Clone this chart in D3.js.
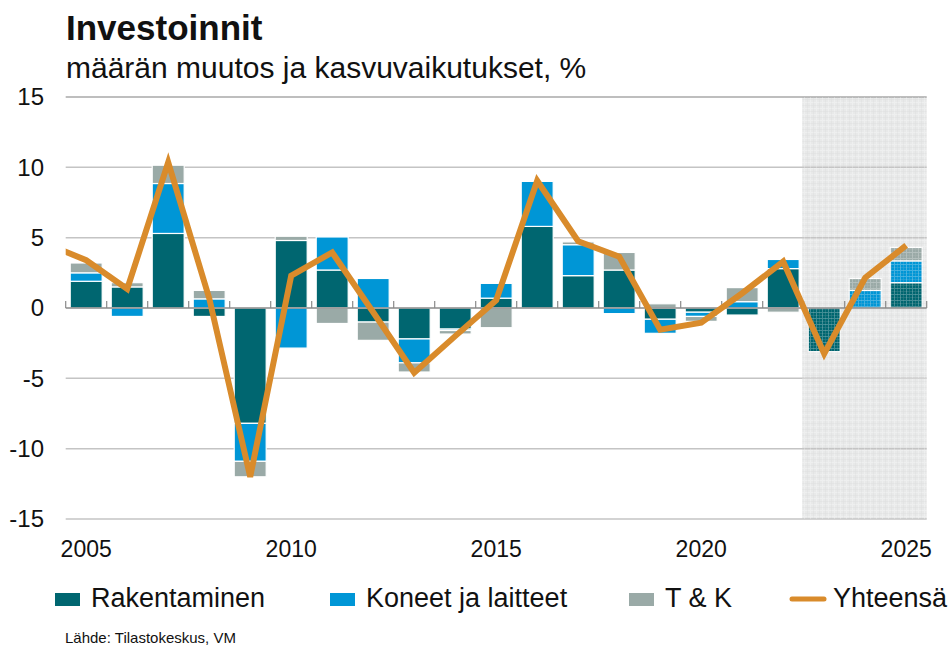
<!DOCTYPE html>
<html>
<head>
<meta charset="utf-8">
<script src="https://cdn.jsdelivr.net/npm/d3@7"></script>
<style>
  body { margin: 0; background: #fff; }
  svg text { font-family: "Liberation Sans", Arial, sans-serif; fill: #111; }
</style>
</head>
<body>
<div id="chart"></div>
<script>
// vuodet ja kasvuvaikutukset, %-yks.
var years = [2005, 2006, 2007, 2008, 2009, 2010, 2011, 2012, 2013, 2014, 2015,
  2016, 2017, 2018, 2019, 2020, 2021, 2022, 2023, 2024, 2025];
var rakentaminen = [1.9, 1.5, 5.3, -0.6, -8.2, 4.8, 2.7, -1.0, -2.2, -1.5, 0.7,
  5.8, 2.3, 2.7, -0.8, -0.3, -0.5, 2.8, -3.1, 0, 1.8];
var koneet = [0.6, -0.6, 3.55, 0.65, -2.7, -2.85, 2.35, 2.1, -1.7, -0.1, 1.05,
  3.2, 2.2, -0.4, -1.0, -0.3, 0.45, 0.65, 0, 1.25, 1.55];
var tk = [0.7, 0.3, 1.3, 0.6, -1.1, 0.3, -1.1, -1.3, -0.65, -0.25, -1.4,
  0, 0.2, 1.25, 0.3, -0.35, 1.0, -0.3, 0, 0.85, 0.95];

// yhteensä-viiva alkaa jo vuodesta 2004 (leikataan kuvan reunaan)
var lineYears = [2004, 2005, 2006, 2007, 2008, 2009, 2010, 2011, 2012, 2013, 2014,
  2015, 2016, 2017, 2018, 2019, 2020, 2021, 2022, 2023, 2024, 2025];
var yhteensa = [4.6, 3.4, 1.35, 10.35, 0.7, -12.0, 2.3, 3.95, -0.3, -4.6, -2.0,
  0.55, 9.05, 4.75, 3.65, -1.55, -1.05, 1.05, 3.3, -3.25, 2.15, 4.45];

var yTicks = [15, 10, 5, 0, -5, -10, -15];
var xLabels = [2005, 2010, 2015, 2020, 2025];
var forecastStart = 2023;

var keys = ["rak", "kon", "tk"];
var names = ["Rakentaminen", "Koneet ja laitteet", "T & K", "Yhteensä"];
var colors = { rak: "#006670", kon: "#0096d6", tk: "#9aaaa7" };
var lineColor = "#d98b2b";

var width = 948, height = 647;
var plotLeft = 65.7, plotRight = 926.7, plotTop = 97, plotBottom = 519;

var svg = d3.select("#chart").append("svg")
  .attr("width", width)
  .attr("height", height);

var x = d3.scaleBand()
  .domain(years)
  .range([plotLeft, plotRight])
  .paddingInner(0.22)
  .paddingOuter(0.11);

var xl = d3.scaleLinear()
  .domain([years[0] - 0.5, years[years.length - 1] + 0.5])
  .range([plotLeft, plotRight]);

var y = d3.scaleLinear().domain([-15, 15]).range([plotBottom, plotTop]);

var rows = years.map(function(yr, i) {
  return { year: yr, rak: rakentaminen[i], kon: koneet[i], tk: tk[i] };
});

var series = d3.stack()
  .keys(keys)
  .offset(d3.stackOffsetDiverging)(rows);

// ennustealue
var defs = svg.append("defs");
var pat = defs.append("pattern")
  .attr("id", "grid")
  .attr("patternUnits", "userSpaceOnUse")
  .attr("width", 6)
  .attr("height", 6);
pat.append("path")
  .attr("d", "M0,0.5H6M0.5,0V6")
  .attr("stroke", "#ffffff")
  .attr("stroke-width", 1)
  .attr("opacity", 0.25);
pat.append("path")
  .attr("d", "M0,3.5H6M3.5,0V6")
  .attr("stroke", "#c8c8c8")
  .attr("stroke-width", 0.6)
  .attr("opacity", 0.25);

defs.append("clipPath")
  .attr("id", "plotclip")
  .append("rect")
  .attr("x", plotLeft)
  .attr("y", 0)
  .attr("width", plotRight - plotLeft)
  .attr("height", height);

var shadeX = xl(forecastStart - 0.5) - 1.5;

svg.append("rect")
  .attr("x", shadeX)
  .attr("y", plotTop)
  .attr("width", plotRight - shadeX)
  .attr("height", plotBottom - plotTop)
  .attr("fill", "#e8e9e9");

// ruudukko
svg.append("g")
  .selectAll("line")
  .data(yTicks.filter(function(d) { return d !== 0; }))
  .enter()
  .append("line")
  .attr("x1", plotLeft)
  .attr("x2", plotRight)
  .attr("y1", function(d) { return y(d); })
  .attr("y2", function(d) { return y(d); })
  .attr("stroke", function(d) { return d === 15 ? "#a8a8a8" : "#c4c4c4"; })
  .attr("stroke-width", 1.5);

svg.append("g")
  .selectAll("text")
  .data(yTicks)
  .enter()
  .append("text")
  .attr("x", 44)
  .attr("y", function(d) { return y(d); })
  .attr("dy", "0.35em")
  .attr("text-anchor", "end")
  .style("font-size", "24px")
  .text(function(d) { return d; });

// pylväät
svg.append("g")
  .selectAll("g")
  .data(series)
  .enter()
  .append("g")
  .attr("fill", function(d) { return colors[d.key]; })
  .selectAll("rect")
  .data(function(d) { return d; })
  .enter()
  .append("rect")
  .attr("x", function(d) { return x(d.data.year); })
  .attr("width", x.bandwidth())
  .attr("y", function(d) { return y(Math.max(d[0], d[1])); })
  .attr("height", function(d) { return Math.abs(y(d[0]) - y(d[1])); })
  .attr("stroke", "#fff")
  .attr("stroke-width", 1.2);

// ennustealueen kuvio pylväiden päälle
svg.append("rect")
  .attr("x", shadeX)
  .attr("y", plotTop)
  .attr("width", plotRight - shadeX)
  .attr("height", plotBottom - plotTop)
  .attr("fill", "url(#grid)");

// nollaviiva ja jakoviivat
svg.append("line")
  .attr("x1", plotLeft)
  .attr("x2", plotRight)
  .attr("y1", y(0))
  .attr("y2", y(0))
  .attr("stroke", "#8a8a8a")
  .attr("stroke-width", 1.5);

svg.append("g")
  .selectAll("line")
  .data(d3.range(years.length + 1))
  .enter()
  .append("line")
  .attr("x1", function(i) { return xl(years[0] - 0.5 + i); })
  .attr("x2", function(i) { return xl(years[0] - 0.5 + i); })
  .attr("y1", y(0))
  .attr("y2", y(0) - 7)
  .attr("stroke", "#8a8a8a")
  .attr("stroke-width", 1.2);

// yhteensä
var line = d3.line()
  .x(function(d, i) { return xl(lineYears[i]); })
  .y(function(d) { return y(d); });

svg.append("path")
  .datum(yhteensa)
  .attr("clip-path", "url(#plotclip)")
  .attr("d", line)
  .attr("fill", "none")
  .attr("stroke", lineColor)
  .attr("stroke-width", 6)
  .attr("stroke-linejoin", "miter");

// x-akselin vuodet
svg.append("g")
  .selectAll("text")
  .data(xLabels)
  .enter()
  .append("text")
  .attr("x", function(d) { return x(d) + x.bandwidth() / 2; })
  .attr("y", 557)
  .attr("text-anchor", "middle")
  .style("font-size", "23px")
  .text(function(d) { return d; });

// otsikot
svg.append("text")
  .attr("x", 66)
  .attr("y", 40)
  .style("font-size", "35px")
  .style("font-weight", "bold")
  .text("Investoinnit");

svg.append("text")
  .attr("x", 66)
  .attr("y", 78)
  .style("font-size", "30px")
  .text("määrän muutos ja kasvuvaikutukset, %");

// selite
var legendX = [55, 330, 629, 792];
var legend = svg.append("g")
  .selectAll("g")
  .data(names)
  .enter()
  .append("g")
  .attr("transform", function(d, i) { return "translate(" + legendX[i] + ",0)"; });

legend.filter(function(d, i) { return i < 3; })
  .append("rect")
  .attr("x", 0)
  .attr("y", 593)
  .attr("width", 25)
  .attr("height", 13)
  .attr("fill", function(d, i) { return colors[keys[i]]; });

legend.filter(function(d, i) { return i === 3; })
  .append("line")
  .attr("x1", 0)
  .attr("x2", 32)
  .attr("y1", 599)
  .attr("y2", 599)
  .attr("stroke", lineColor)
  .attr("stroke-width", 5)
  .attr("stroke-linecap", "round");

legend.append("text")
  .attr("x", function(d, i) { return i === 3 ? 41 : 36; })
  .attr("y", 607)
  .style("font-size", "27px")
  .text(function(d) { return d; });

svg.append("text")
  .attr("x", 65)
  .attr("y", 643)
  .style("font-size", "15px")
  .text("Lähde: Tilastokeskus, VM");
</script>
</body>
</html>
